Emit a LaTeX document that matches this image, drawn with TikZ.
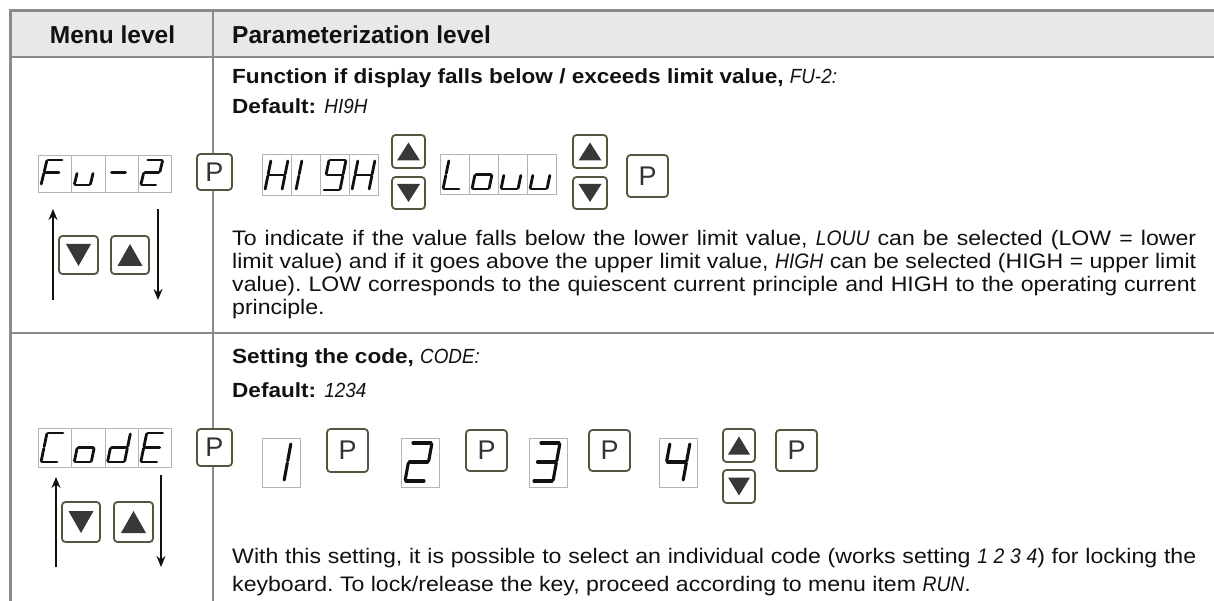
\documentclass[tikz,border=0pt]{standalone}
\usepackage{fontspec}
\setmainfont{Liberation Sans}
\newfontfamily\lcdfont[FakeStretch=0.92]{Liberation Sans}
\newfontfamily\widefont[FakeStretch=1.1]{Liberation Sans}
\usetikzlibrary{arrows.meta,calc}
\definecolor{tablegrey}{HTML}{8A8A8A}
\definecolor{hdrfill}{HTML}{E8E8E8}
\definecolor{cellgrey}{HTML}{B4B4B4}
\definecolor{btnedge}{HTML}{55553F}
\definecolor{trifill}{HTML}{383838}
\definecolor{ink}{HTML}{111111}
\definecolor{plabelc}{HTML}{333333}

\newcommand\lcd[1]{{\lcdfont\mdseries\itshape #1}}
\def\sega{(0,1)--(1,1)}
\def\segb{(1,1)--(1,0.5)}
\def\segc{(1,0.5)--(1,0)}
\def\segd{(0,0)--(1,0)}
\def\sege{(0,0)--(0,0.5)}
\def\segf{(0,0.5)--(0,1)}
\def\segg{(0,0.5)--(1,0.5)}
% x, y of glyph bottom-left, width, height, slant, segments
\newcommand\segglyph[6]{%
  \begin{scope}[shift={(#1,#2)},x={(#3pt,0pt)},y={(#5pt,#4pt)}]
    \foreach \s in {#6}{\draw[segline] \csname seg\s\endcsname;}
  \end{scope}}
\newcommand\uptri[3]{\fill[trifill] ([xshift=-#2pt,yshift=-#3pt]#1.center) -- ([xshift=#2pt,yshift=-#3pt]#1.center) -- ([yshift=#3pt]#1.center) -- cycle;}
\newcommand\dntri[3]{\fill[trifill] ([xshift=-#2pt,yshift=#3pt]#1.center) -- ([xshift=#2pt,yshift=#3pt]#1.center) -- ([yshift=-#3pt]#1.center) -- cycle;}
% name, x1, y1, x2, y2 : four-cell display
\newcommand\lcdbox[5]{%
  \node[dispbox, anchor=north west, minimum width={(#4-#2)*1pt}, minimum height={(#5-#3)*1pt}] (#1) at (#2,#3) {};
  \foreach \i in {1,2,3}{\draw[cellline] ($(#1.north west)!\i/4!(#1.north east)$) -- ($(#1.south west)!\i/4!(#1.south east)$);}}

\tikzset{
  gridline/.style={draw=tablegrey, line width=2.5pt},
  dispbox/.style={draw=cellgrey, line width=1pt, inner sep=0pt, fill=white},
  cellline/.style={draw=cellgrey, line width=1pt},
  keybtn/.style={draw=btnedge, line width=1.8pt, rounded corners=3.5pt, inner sep=0pt, fill=white, text=plabelc, font=\fontsize{27}{27}\selectfont},
  segline/.style={draw=ink, line width=2.8pt, line cap=round, shorten >=1pt, shorten <=1pt},
  navarrow/.style={draw=ink, line width=1.6pt, -{Stealth[length=11pt,width=9pt]}},
  hdr/.style={inner sep=0pt, text=ink, font=\fontsize{24.5}{28}\selectfont\bfseries},
  head/.style={inner sep=0pt, text=ink, anchor=base west, font=\widefont\fontsize{20.5}{26}\selectfont\bfseries},
  body/.style={inner sep=0pt, text=ink, anchor=north west, text width=964pt, align=justify},
}

\begin{document}
\begin{tikzpicture}[x=1pt,y=-1pt]
\useasboundingbox (0,0) rectangle (1214,601);
\fill[white] (0,0) rectangle (1214,601);

% ---------- table ----------
\fill[hdrfill] (11,11) rectangle (1214,57);
\draw[gridline, line width=3pt] (9.5,10.5) -- (1214,10.5);
\draw[gridline, line width=3pt] (10.5,9) -- (10.5,601);
\draw[gridline] (9,57) -- (1214,57);
\draw[gridline, line width=2pt] (213,10) -- (213,601);
\draw[gridline] (9,333) -- (1214,333);

\node[hdr, anchor=base] (hmenu) at (112.5,44) {Menu level};
\node[hdr, anchor=base west] (hparam) at (232,44) {Parameterization level};

% ---------- row 1 ----------
\node[head] (t1) at (232,84) {Function if display falls below / exceeds limit value, \lcd{FU-2:}};
\node[head] (d1) at (232,114) {Default: \lcd{HI9H}};

\lcdbox{fu2}{38}{155}{171}{192}
\segglyph{41}{185}{16}{25}{6}{a,e,f,g}
\segglyph{74.25}{185}{16}{25}{6}{c,d,e}
\segglyph{107.5}{185}{16}{25}{6}{g}
\segglyph{140.75}{185}{16}{25}{6}{a,b,d,e,g}

\node[keybtn, minimum width=35pt, minimum height=36pt] (p1) at (214.5,172) {P};

\lcdbox{high}{262}{154}{378}{195}
\segglyph{265}{190}{17}{30}{6}{b,c,e,f,g}
\segglyph{296}{190}{17}{30}{6}{e,f}
\segglyph{323}{190}{17}{30}{6}{a,b,c,d,f,g}
\segglyph{352}{190}{17}{30}{6}{b,c,e,f,g}

\node[keybtn, minimum width=33pt, minimum height=33pt] (up1) at (408.5,151.5) {};
\uptri{up1}{11.5}{9}
\node[keybtn, minimum width=33pt, minimum height=32pt] (dn1) at (408.5,193) {};
\dntri{dn1}{11.5}{9}

\lcdbox{louu}{440}{154}{556}{194}
\segglyph{443}{189}{17}{29}{6}{d,e,f}
\segglyph{472}{189}{17}{29}{6}{c,d,e,g}
\segglyph{501}{189}{17}{29}{6}{c,d,e}
\segglyph{530}{189}{17}{29}{6}{c,d,e}

\node[keybtn, minimum width=34pt, minimum height=33pt] (up2) at (590,151.5) {};
\uptri{up2}{11.5}{9}
\node[keybtn, minimum width=34pt, minimum height=32pt] (dn2) at (590,193) {};
\dntri{dn2}{11.5}{9}

\node[keybtn, minimum width=41pt, minimum height=42pt] (p2) at (647.5,176) {P};

% navigation column row 1
\node[keybtn, minimum width=39pt, minimum height=38pt] (nd1) at (78.5,255) {};
\dntri{nd1}{12.5}{11}
\node[keybtn, minimum width=38pt, minimum height=38pt] (nu1) at (130,255) {};
\uptri{nu1}{12.5}{11}
\coordinate (a1s) at (53,300);
\coordinate (a1e) at (53,209);
\coordinate (b1s) at (158,209);
\coordinate (b1e) at (158,300);
\draw[navarrow] (a1s) -- (a1e);
\draw[navarrow] (b1s) -- (b1e);

\node[body, font=\widefont\fontsize{21}{23}\selectfont\frenchspacing] (para1) at (232,228.9) {\strut To indicate if the value falls below the lower limit value, \lcd{LOUU} can be selected (LOW = lower\linebreak limit value) and if it goes above the upper limit value, \lcd{HIGH} can be selected (HIGH = upper limit\linebreak value). LOW corresponds to the quiescent current principle and HIGH to the operating current\linebreak principle.};

% ---------- row 2 ----------
\node[head] (t2) at (232,363) {Setting the code, \lcd{CODE:}};
\node[head] (d2) at (232,397) {Default: \lcd{1234}};

\lcdbox{code}{38}{428}{171}{467}
\segglyph{41}{462}{17}{29}{6}{a,d,e,f}
\segglyph{74.25}{462}{17}{29}{6}{c,d,e,g}
\segglyph{107.5}{462}{17}{29}{6}{b,c,d,e,g}
\segglyph{140.75}{462}{17}{29}{6}{a,d,e,f,g}

\node[keybtn, minimum width=35pt, minimum height=37pt] (p3) at (214.5,447.5) {P};

\node[dispbox, minimum width=38pt, minimum height=49pt] (dg1) at (281,462.5) {};
\begin{scope}[segline/.append style={line width=3.1pt}]
\segglyph{264}{481}{20}{38}{7}{b,c}
\end{scope}
\node[keybtn, minimum width=41pt, minimum height=43pt] (p4) at (347.5,450.5) {P};

\node[dispbox, minimum width=38pt, minimum height=49pt] (dg2) at (420,462.5) {};
\begin{scope}[segline/.append style={line width=3.1pt}]
\segglyph{405}{481}{20}{38}{7}{a,b,d,e,g}
\end{scope}
\node[keybtn, minimum width=41pt, minimum height=41pt] (p5) at (486.5,450.5) {P};

\node[dispbox, minimum width=38pt, minimum height=49pt] (dg3) at (548,462.5) {};
\begin{scope}[segline/.append style={line width=3.1pt}]
\segglyph{533}{481}{20}{38}{7}{a,b,c,d,g}
\end{scope}
\node[keybtn, minimum width=41pt, minimum height=41pt] (p6) at (609.5,450.5) {P};

\node[dispbox, minimum width=38pt, minimum height=49pt] (dg4) at (678,462.5) {};
\begin{scope}[segline/.append style={line width=3.1pt}]
\segglyph{663}{481}{20}{38}{7}{b,c,f,g}
\end{scope}

\node[keybtn, minimum width=32pt, minimum height=33pt] (up3) at (739,445.5) {};
\uptri{up3}{11}{9}
\node[keybtn, minimum width=32pt, minimum height=33pt] (dn3) at (739,486.5) {};
\dntri{dn3}{11}{9}

\node[keybtn, minimum width=41pt, minimum height=41pt] (p7) at (796.5,450.5) {P};

% navigation column row 2
\node[keybtn, minimum width=38pt, minimum height=40pt] (nd2) at (81,522) {};
\dntri{nd2}{12.5}{11}
\node[keybtn, minimum width=39pt, minimum height=40pt] (nu2) at (133.5,522) {};
\uptri{nu2}{12.5}{11}
\coordinate (a2s) at (56,567);
\coordinate (a2e) at (56,477);
\coordinate (b2s) at (161,475);
\coordinate (b2e) at (161,567);
\draw[navarrow] (a2s) -- (a2e);
\draw[navarrow] (b2s) -- (b2e);

\node[body, font=\widefont\fontsize{21}{28}\selectfont\frenchspacing] (para2) at (232,543.4) {\strut With this setting, it is possible to select an individual code (works setting \lcd{1 2 3 4}) for locking the\linebreak keyboard. To lock/release the key, proceed according to menu item \lcd{RUN}.};

\end{tikzpicture}
\end{document}
